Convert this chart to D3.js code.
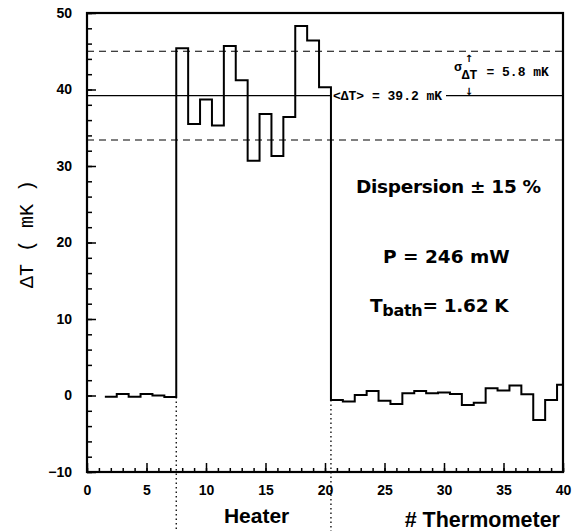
<!DOCTYPE html>
<html>
<head>
<meta charset="utf-8">
<script src="https://cdn.jsdelivr.net/npm/d3@7"></script>
<style>
  body { margin: 0; background: #fff; }
  text { fill: #000; }
</style>
</head>
<body>
<div id="chart-area"></div>
<script>
// thermometer number and measured temperature rise (mK)
var thermometers = [2,3,4,5,6,7,8,9,10,11,12,13,14,15,16,17,18,19,20,
                    21,22,23,24,25,26,27,28,29,30,31,32,33,34,35,36,37,38,39,40];
var deltaT = [-0.15,0.2,-0.15,0.2,0.0,-0.2,
              45.4,35.5,38.7,35.3,45.7,41.2,30.7,36.8,31.3,36.4,48.3,46.4,40.3,
              -0.6,-0.8,0.05,0.6,-0.7,-1.1,0.3,0.6,0.3,0.4,0.2,-1.25,-0.95,0.95,0.65,1.3,0.15,-3.2,-0.6,1.4];
var heaterEdges = [7.5, 20.5];
var meanDT = 39.2;
var sigmaDT = 5.8;
var xMajorTicks = [0,5,10,15,20,25,30,35,40];
var yMajorTicks = [-10,0,10,20,30,40,50];

var W = 572, H = 531;
var margin = {left: 87, right: 9, top: 13, bottom: 59};

var svg = d3.select("#chart-area").append("svg")
    .attr("width", W)
    .attr("height", H);

var x = d3.scaleLinear().domain([0, 40]).range([margin.left, W - margin.right]);
var y = d3.scaleLinear().domain([-10, 50]).range([H - margin.bottom, margin.top]);

var boldSans = "'Liberation Sans', Arial, sans-serif";
var wideSans = "'DejaVu Sans', sans-serif";
var mono = "'Liberation Mono', 'DejaVu Sans Mono', monospace";

// minor ticks
svg.append("g")
    .attr("transform", "translate(0," + y(-10) + ")")
    .call(d3.axisBottom(x).tickValues(d3.range(0, 41, 1)).tickSize(-4).tickFormat(""))
    .call(function(g) { g.select(".domain").remove(); });
svg.append("g")
    .attr("transform", "translate(" + x(0) + ",0)")
    .call(d3.axisLeft(y).tickValues(d3.range(-10, 51, 2)).tickSize(-5).tickFormat(""))
    .call(function(g) { g.select(".domain").remove(); });

// major ticks + labels
var xAxis = svg.append("g")
    .attr("transform", "translate(0," + y(-10) + ")")
    .call(d3.axisBottom(x).tickValues(xMajorTicks).tickSize(-9).tickPadding(13));
xAxis.select(".domain").remove();
xAxis.selectAll("text")
    .attr("font-family", boldSans).attr("font-weight", "bold").attr("font-size", "14px");

var yAxis = svg.append("g")
    .attr("transform", "translate(" + x(0) + ",0)")
    .call(d3.axisLeft(y).tickValues(yMajorTicks).tickSize(-9).tickPadding(15));
yAxis.select(".domain").remove();
yAxis.selectAll("text")
    .attr("font-family", boldSans).attr("font-weight", "bold").attr("font-size", "14px")
    .text(function(d) { return d < 0 ? "\u2212" + Math.abs(d) : d; });
svg.selectAll(".tick line").attr("stroke-width", 1.5);

// frame
svg.append("rect")
    .attr("x", x(0)).attr("y", y(50))
    .attr("width", x(40) - x(0)).attr("height", y(-10) - y(50))
    .attr("fill", "none").attr("stroke", "#000").attr("stroke-width", 2.2);

// sigma band (dashed)
[meanDT + sigmaDT, meanDT - sigmaDT].forEach(function(v) {
    svg.append("line")
        .attr("x1", x(0)).attr("x2", x(40))
        .attr("y1", y(v)).attr("y2", y(v))
        .attr("stroke", "#000").attr("stroke-width", 1.2)
        .style("stroke-dasharray", "7,5");
});

// mean line, broken for the label
svg.append("line")
    .attr("x1", x(0)).attr("x2", x(heaterEdges[1]))
    .attr("y1", y(meanDT)).attr("y2", y(meanDT))
    .attr("stroke", "#000").attr("stroke-width", 1.2);
svg.append("line")
    .attr("x1", 446).attr("x2", x(40))
    .attr("y1", y(meanDT)).attr("y2", y(meanDT))
    .attr("stroke", "#000").attr("stroke-width", 1.2);

svg.append("text")
    .attr("x", x(heaterEdges[1]) + 2).attr("y", y(meanDT) + 4)
    .attr("font-family", mono).attr("font-weight", "bold").attr("font-size", "13px")
    .text("<\u0394T> = " + meanDT + " mK");

// sigma annotation
var sig = svg.append("text")
    .attr("x", 454).attr("y", 76)
    .attr("font-family", mono).attr("font-weight", "bold").attr("font-size", "13px");
sig.append("tspan").attr("dy", -5).text("\u03c3");
sig.append("tspan").attr("dy", 8).text("\u0394T");
sig.append("tspan").attr("dy", -3).attr("dx", 9).text("= " + sigmaDT + " mK");

svg.append("text")
    .attr("x", 469).attr("y", y(meanDT + sigmaDT) + 11)
    .attr("text-anchor", "middle")
    .attr("font-family", wideSans).attr("font-weight", "bold").attr("font-size", "10px")
    .text("\u2191");
svg.append("text")
    .attr("x", 469).attr("y", y(meanDT) - 1)
    .attr("text-anchor", "middle")
    .attr("font-family", wideSans).attr("font-weight", "bold").attr("font-size", "10px")
    .text("\u2193");

// step histogram
var stepPts = [];
thermometers.forEach(function(t, i) {
    stepPts.push([t - 0.5, deltaT[i]]);
    stepPts.push([Math.min(t + 0.5, 40), deltaT[i]]);
});
var line = d3.line()
    .x(function(d) { return x(d[0]); })
    .y(function(d) { return y(d[1]); });
svg.append("path")
    .datum(stepPts)
    .attr("d", line)
    .attr("fill", "none")
    .attr("stroke", "#000")
    .attr("stroke-width", 2);

// heater boundaries (dotted)
heaterEdges.forEach(function(e) {
    var idx = thermometers.indexOf(e < 10 ? e - 0.5 : e + 0.5);
    svg.append("line")
        .attr("x1", x(e)).attr("x2", x(e))
        .attr("y1", y(deltaT[idx])).attr("y2", H)
        .attr("stroke", "#000").attr("stroke-width", 1.3)
        .style("stroke-dasharray", "1.5,3");
});

// axis labels
svg.append("text")
    .attr("transform", "translate(33," + 234 + ") rotate(-90)")
    .attr("text-anchor", "middle")
    .attr("font-family", mono).attr("font-size", "20px")
    .text("\u0394T ( mK )");

svg.append("text")
    .attr("x", (x(heaterEdges[0]) + x(heaterEdges[1])) / 2 + 3).attr("y", 523)
    .attr("text-anchor", "middle")
    .attr("font-family", boldSans).attr("font-weight", "bold").attr("font-size", "21px")
    .text("Heater");

svg.append("text")
    .attr("x", 560).attr("y", 527)
    .attr("text-anchor", "end")
    .attr("font-family", boldSans).attr("font-weight", "bold").attr("font-size", "21.5px")
    .text("# Thermometer");

// in-plot notes
svg.append("text")
    .attr("x", 356).attr("y", 193)
    .attr("font-family", wideSans).attr("font-weight", "bold").attr("font-size", "18.5px")
    .attr("letter-spacing", "-0.3px")
    .text("Dispersion \u00b1 15 %");

svg.append("text")
    .attr("x", 383).attr("y", 263)
    .attr("font-family", wideSans).attr("font-weight", "bold").attr("font-size", "18.5px")
    .text("P = 246 mW");

var tb = svg.append("text")
    .attr("x", 370).attr("y", 312)
    .attr("font-family", wideSans).attr("font-weight", "bold").attr("font-size", "18.5px")
    .attr("letter-spacing", "-0.3px");
tb.append("tspan").text("T");
tb.append("tspan").attr("dy", 4).attr("font-size", "16px").text("bath");
tb.append("tspan").attr("dy", -4).text("= 1.62 K");
</script>
</body>
</html>
